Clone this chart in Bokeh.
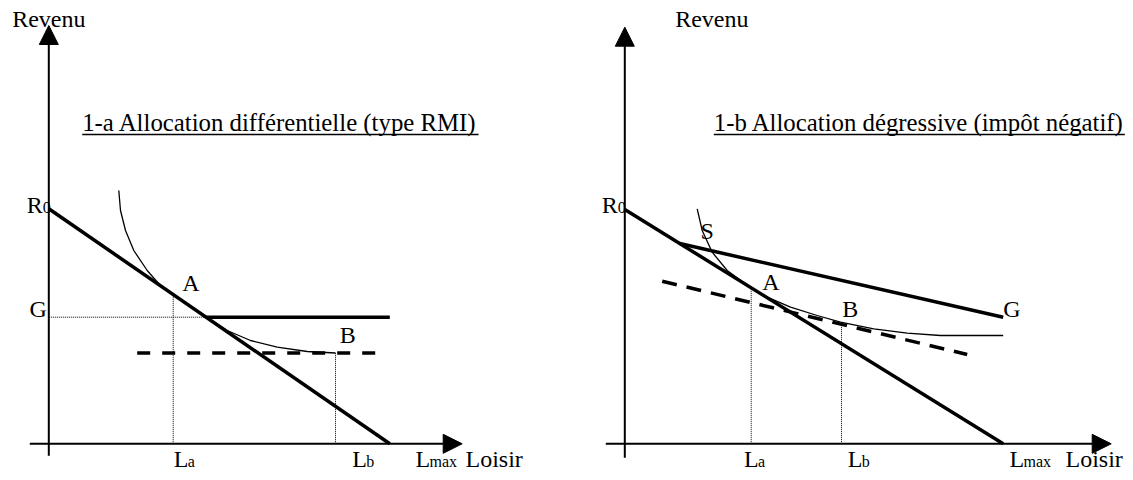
from bokeh.plotting import figure
from bokeh.models import Arrow, NormalHead, Label
from bokeh.layouts import row
from bokeh.embed import file_html
from bokeh.resources import INLINE

FONT = "Liberation Serif"

# ---------------- Panel 1-a : allocation différentielle ----------------
R0_a = 235.0          # revenu à loisir nul
Lmax_a = 341.0        # loisir maximal
G_a = 126.6           # revenu garanti
La_a = 124.4          # loisir au point A
Lb_a = 286.7          # loisir au point B
dash_a_level = 90.8   # niveau de la droite en tirets
dash_a_x = [88.4, 330.0]
curve_a_x = [70.0, 71.7, 76.7, 85.0, 98.4, 110.0, 123.4, 138.4, 158.4, 178.4, 201.7, 228.4, 258.4, 286.7]
curve_a_y = [253.3, 233.3, 213.3, 193.3, 173.3, 160.0, 150.0, 140.0, 126.5, 113.3, 103.3, 96.6, 92.3, 90.8]

# ---------------- Panel 1-b : allocation dégressive ----------------
R0_b = 234.3
Lmax_b = 378.4
G_end_b = 126.6       # revenu à Lmax avec l'allocation
S_b = 55.0            # loisir au point S (raccordement)
La_b = 126.4
Lb_b = 216.7
B_b_y = 121.0
dash_b_x = [37.4, 342.4]
dash_b_y = [162.6, 89.3]
curve_b_x = [72.4, 77.4, 87.4, 102.4, 122.4, 142.4, 165.7, 192.4, 215.7, 249.0, 282.4, 315.7, 378.4]
curve_b_y = [235.0, 213.3, 191.6, 173.3, 158.6, 146.6, 136.6, 128.3, 121.6, 115.0, 110.6, 108.3, 108.3]

TITLE_A = "1-a Allocation différentielle (type RMI)"
TITLE_B = "1-b Allocation dégressive (impôt négatif)"

H = 472
Y_RANGE = (443.3 - H, 443.3)
LABEL_SHIFT = 8   # raise text annotations to line up with glyphs
MAIN = "24px"
SUB = "16px"


def make_fig(width, xr):
    p = figure(width=width, height=H, x_range=xr, y_range=Y_RANGE,
               output_backend="svg", toolbar_location=None,
               x_axis_type=None, y_axis_type=None, min_border=0)
    p.grid.visible = False
    p.outline_line_color = None
    p.background_fill_color = "white"
    p.border_fill_color = "white"
    return p


def label(p, x, y, text, dx=0, dy=0, size=MAIN, align="left"):
    p.add_layout(Label(x=x, y=y, x_offset=dx, y_offset=dy + LABEL_SHIFT, text=text,
                       text_font=FONT, text_font_size=size, text_align=align,
                       text_baseline="alphabetic", text_color="black"))


def sublabel(p, x, y, main, sub, dx, dy, gap=14):
    label(p, x, y, main, dx=dx, dy=dy)
    label(p, x, y, sub, dx=dx + gap, dy=dy - 2.5, size=SUB)


def axes(p, y_bottom, y_tip, x_left, x_tip):
    head = dict(size=19, fill_color="black", line_color="black", line_width=1)
    p.add_layout(Arrow(end=NormalHead(**head), x_start=0, y_start=y_bottom,
                       x_end=0, y_end=y_tip, line_width=2, line_color="black"))
    p.add_layout(Arrow(end=NormalHead(**head), x_start=x_left, y_start=0,
                       x_end=x_tip, y_end=0, line_width=2, line_color="black"))


def budget(r0, lmax, x):
    return r0 * (1 - x / lmax)


# ================= figure a =================
W1 = 553
pa = make_fig(W1, (-48.3, W1 - 48.3))
axes(pa, -12, 418.3, -19, 413.4)

kink_a = Lmax_a * (1 - G_a / R0_a)
A_a_y = budget(R0_a, Lmax_a, La_a)

# dotted guides
pa.line([0, kink_a], [G_a, G_a], line_width=1, line_color="black", line_dash="1 1")
pa.line([La_a, La_a], [0, A_a_y], line_width=1, line_color="black", line_dash="1 1")
pa.line([Lb_a, Lb_a], [0, dash_a_level], line_width=1, line_color="black", line_dash="1 1")
# indifference curve
pa.line(curve_a_x, curve_a_y, line_width=1.3, line_color="black")
# budget line
pa.line([0, Lmax_a], [R0_a, 0], line_width=3.5, line_color="black")
# guaranteed income
pa.line([kink_a, Lmax_a], [G_a, G_a], line_width=3.5, line_color="black")
# dashed line
pa.line(dash_a_x, [dash_a_level, dash_a_level], line_width=3.5, line_color="black",
        line_dash="13 12")

# texts
label(pa, 0, 418.3, "Revenu", dy=-1.7, align="center")
label(pa, 0, R0_a, "R", dx=-6, dy=-4, align="right")
label(pa, 0, R0_a, "0", dx=-6, dy=-7, size=SUB)
label(pa, 0, G_a, "G", dx=-2, dy=0, align="right")
label(pa, La_a, A_a_y, "A", dx=9, dy=4)
label(pa, Lb_a, dash_a_level, "B", dx=4.3, dy=10.4)
sublabel(pa, La_a, 0, "L", "a", dx=0.6, dy=-23.4)
sublabel(pa, Lb_a, 0, "L", "b", dx=16.7, dy=-23.4)
sublabel(pa, Lmax_a, 0, "L", "max", dx=25.7, dy=-23.4)
label(pa, 413.4, 0, "Loisir", dx=3.3, dy=-23.4)
label(pa, 33.4, 313.3, TITLE_A, size="24.8px")
pa.line([33.4, 429.7], [309.3, 309.3], line_width=1.6, line_color="black")

# ================= figure b =================
W2 = 572
pb = make_fig(W2, (W1 - 624.3, W1 + W2 - 624.3))
axes(pb, -14, 416.6, -19, 486.4)

S_b_y = budget(R0_b, Lmax_b, S_b)
A_b_y = budget(R0_b, Lmax_b, La_b)

pb.line([La_b, La_b], [0, A_b_y], line_width=1, line_color="black", line_dash="1 1")
pb.line([Lb_b, Lb_b], [0, B_b_y], line_width=1, line_color="black", line_dash="1 1")
pb.line(curve_b_x, curve_b_y, line_width=1.3, line_color="black")
pb.line([0, Lmax_b], [R0_b, 0], line_width=3.5, line_color="black")
pb.line([S_b, Lmax_b], [S_b_y, G_end_b], line_width=3.5, line_color="black")
pb.line(dash_b_x, dash_b_y, line_width=3.5, line_color="black", line_dash="15 10")

label(pb, 0, 416.6, "Revenu", dx=50.4, dy=0)
label(pb, 0, R0_b, "R", dx=-7, dy=-3, align="right")
label(pb, 0, R0_b, "0", dx=-7, dy=-6, size=SUB)
label(pb, S_b, S_b_y, "S", dx=20.7, dy=5)
label(pb, La_b, A_b_y, "A", dx=11, dy=-2.7)
label(pb, Lb_b, B_b_y, "B", dx=0.7, dy=5.7)
label(pb, Lmax_b, G_end_b, "G", dx=0, dy=0.7)
sublabel(pb, La_b, 0, "L", "a", dx=-7.3, dy=-23.4)
sublabel(pb, Lb_b, 0, "L", "b", dx=6.3, dy=-23.4)
sublabel(pb, Lmax_b, 0, "L", "max", dx=6.3, dy=-23.4)
label(pb, 486.4, 0, "Loisir", dx=-45.7, dy=-23.4)
label(pb, 89.0, 313.3, TITLE_B, size="24.8px")
pb.line([89.0, 500.0], [309.3, 309.3], line_width=1.6, line_color="black")

layout = row(pa, pb)
open("out.html", "w").write(file_html(layout, INLINE))
